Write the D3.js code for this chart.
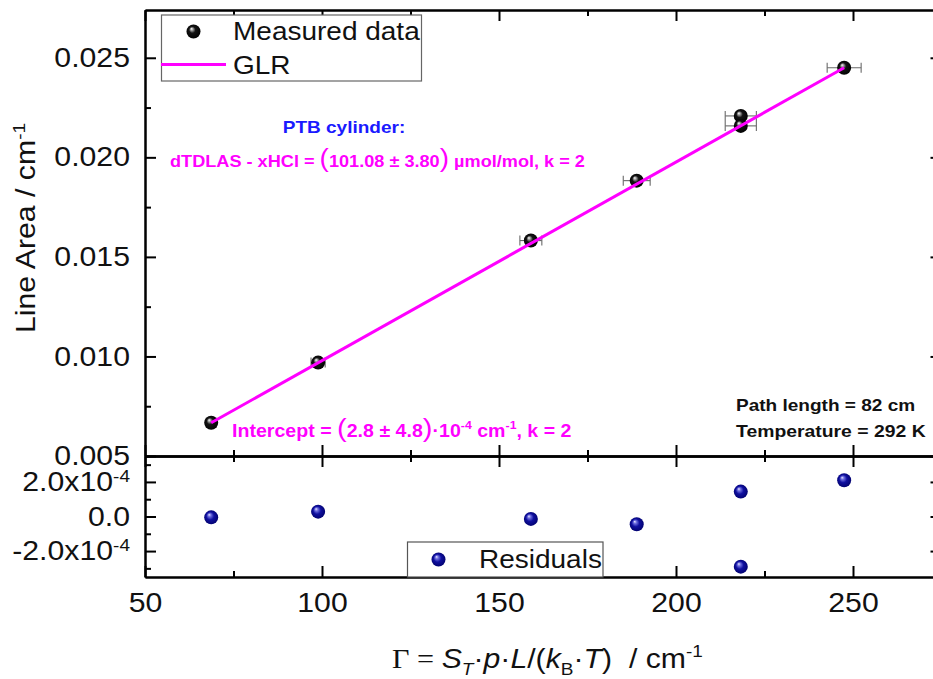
<!DOCTYPE html>
<html>
<head>
<meta charset="utf-8">
<script src="https://cdn.jsdelivr.net/npm/d3@7"></script>
<style>
  body { margin: 0; background: #fff; }
  svg { display: block; }
  text { font-family: "Liberation Sans", Arial, sans-serif; white-space: pre; }
</style>
</head>
<body>
<svg id="chart" width="933" height="679"></svg>
<script>
// ---- data ----
const gamma      = [68.7, 98.9, 159.0, 188.9, 218.3, 218.3, 247.5];       // Γ / cm^-1
const lineArea   = [0.00667, 0.00969, 0.01582, 0.01883, 0.02208, 0.02158, 0.02450]; // cm^-1
const gammaErr   = [1.4, 2.0, 3.1, 3.8, 4.4, 4.4, 4.8];                     // ± Γ
const residuals  = [-0.5e-5, 2.8e-5, -1.4e-5, -4.5e-5, 1.44e-4, -2.9e-4, 2.1e-4];

// GLR fit line end points
const glrGamma = [68.7, 247.5];
const glrArea  = [0.00667, 0.02450];

// fit results shown in the annotations
const xHCl = "101.08", xHClU = "3.80";
const intercept = "2.8", interceptU = "4.8";
const pathLength = 82, temperature = 292;

// axis limits and ticks
const gammaDomain = [50, 275];
const areaDomain  = [0.005, 0.0274];
const resDomain   = [-3.5e-4, 3.5e-4];
const xMajor = [50, 100, 150, 200, 250];
const xMinor = [75, 125, 175, 225];
const areaMajor = [0.005, 0.010, 0.015, 0.020, 0.025];
const areaMinor = [0.0075, 0.0125, 0.0175, 0.0225];
const resMajor = [-2e-4, 0, 2e-4];
const resMinor = [-3e-4, -1e-4, 1e-4, 3e-4];
const resLabelBase = ["-2.0x10", "0.0", "2.0x10"];
const resLabelExp  = ["-4", "", "-4"];

// ---- layout ----
const L = 145, R = 941.5, T = 10, MID = 456, B = 577;
const SX = 1.12;            // horizontal glyph stretch
const FS = 27;              // axis text size
const MAG = "#ff00ff";

const svg = d3.select("#chart");
const x    = d3.scaleLinear().domain(gammaDomain).range([L, R]);
const yMain = d3.scaleLinear().domain(areaDomain).range([MID, T]);
const yRes  = d3.scaleLinear().domain(resDomain).range([B, MID]);

// gradients for shaded spheres
const defs = svg.append("defs");
function sphere(id, stops) {
  const g = defs.append("radialGradient").attr("id", id)
    .attr("cx", 0.5).attr("cy", 0.5).attr("r", 0.55).attr("fx", 0.35).attr("fy", 0.3);
  stops.forEach(s => g.append("stop").attr("offset", s[0]).attr("stop-color", s[1]));
}
sphere("ballBlack", [[0, "#ffffff"], [0.18, "#9a9a9a"], [0.42, "#141414"], [1, "#000000"]]);
sphere("ballBlue",  [[0, "#e8e8ff"], [0.2, "#7070e0"], [0.5, "#1010a0"], [1, "#00006a"]]);

// ---- axes ----
function axis(gen, tx, ty, vals, size, pad, fmt) {
  const g = svg.append("g").attr("transform", `translate(${tx},${ty})`)
    .call(gen.tickValues(vals).tickSizeInner(size).tickSizeOuter(0)
      .tickPadding(pad || 3).tickFormat(fmt || (() => "")));
  g.select(".domain").attr("stroke", "#000").attr("stroke-width", 2);
  g.selectAll(".tick line").attr("stroke", "#000").attr("stroke-width", 2);
  g.selectAll(".tick text").attr("font-size", FS).attr("fill", "#111")
    .attr("font-family", "Liberation Sans, Arial, sans-serif");
  return g;
}

// main panel frame
axis(d3.axisTop(x), 0, T, xMajor, -11);
axis(d3.axisTop(x), 0, T, xMinor, -6);
axis(d3.axisBottom(x), 0, MID, xMajor, -11);
axis(d3.axisBottom(x), 0, MID, xMinor, -6);
const yLeft = axis(d3.axisLeft(yMain), L, 0, areaMajor, -11, 15, d3.format(".3f"));
yLeft.selectAll(".tick text").attr("x", -15 / SX).attr("transform", `scale(${SX},1)`);
axis(d3.axisLeft(yMain), L, 0, areaMinor, -6);
axis(d3.axisRight(yMain), R, 0, areaMajor, -11);
axis(d3.axisRight(yMain), R, 0, areaMinor, -6);

// residual panel frame
axis(d3.axisTop(x), 0, MID, xMajor, -11);
axis(d3.axisTop(x), 0, MID, xMinor, -6);
const xBottom = axis(d3.axisBottom(x), 0, B, xMajor, -11, 16, d3.format("d"));
xBottom.selectAll(".tick text").attr("transform", `scale(${SX},1)`);
axis(d3.axisBottom(x), 0, B, xMinor, -6);
const rLeft = axis(d3.axisLeft(yRes), L, 0, resMajor, -11, 15);
rLeft.selectAll(".tick text").each(function (d, i) {
  const t = d3.select(this).text(null).attr("x", -15 / SX)
    .attr("transform", `scale(${SX},1)`);
  t.append("tspan").text(resLabelBase[i]);
  if (resLabelExp[i]) t.append("tspan").attr("font-size", 17).attr("dy", -9).text(resLabelExp[i]);
});
axis(d3.axisLeft(yRes), L, 0, resMinor, -6);
axis(d3.axisRight(yRes), R, 0, resMajor, -11);
axis(d3.axisRight(yRes), R, 0, resMinor, -6);

// ---- text helpers ----
function label(x0, y0, anchor, extra) {
  return svg.append("text")
    .attr("transform", `translate(${x0},${y0})${extra || ""} scale(${SX},1)`)
    .attr("text-anchor", anchor || "start");
}
function rich(t, segs) {
  segs.forEach(s => {
    const ts = t.append("tspan").text(s.t);
    if (s.size) ts.attr("font-size", s.size);
    if (s.dy) ts.attr("dy", s.dy);
    if (s.style) ts.attr("font-style", s.style);
    if (s.weight) ts.attr("font-weight", s.weight);
    if (s.family) ts.attr("font-family", s.family);
  });
  return t;
}

// ---- main panel marks ----
const pts = gamma.map((g, i) => ({ g, a: lineArea[i], e: gammaErr[i], r: residuals[i] }));

const eb = svg.append("g").attr("stroke", "#6a6a6a").attr("stroke-width", 1.1);
pts.forEach(p => {
  const yy = yMain(p.a);
  eb.append("line").attr("x1", x(p.g - p.e)).attr("x2", x(p.g + p.e)).attr("y1", yy).attr("y2", yy);
  eb.append("line").attr("x1", x(p.g - p.e)).attr("x2", x(p.g - p.e)).attr("y1", yy - 5).attr("y2", yy + 5);
  eb.append("line").attr("x1", x(p.g + p.e)).attr("x2", x(p.g + p.e)).attr("y1", yy - 5).attr("y2", yy + 5);
});

svg.append("g").selectAll("circle").data(pts).join("circle")
  .attr("cx", d => x(d.g)).attr("cy", d => yMain(d.a)).attr("r", 7)
  .attr("fill", "url(#ballBlack)");

svg.append("path")
  .datum(glrGamma.map((g, i) => [g, glrArea[i]]))
  .attr("d", d3.line().x(d => x(d[0])).y(d => yMain(d[1])))
  .attr("stroke", MAG).attr("stroke-width", 3).attr("fill", "none");

// ---- residual marks ----
svg.append("g").selectAll("circle").data(pts).join("circle")
  .attr("cx", d => x(d.g)).attr("cy", d => yRes(d.r)).attr("r", 7)
  .attr("fill", "url(#ballBlue)");

// ---- legends ----
svg.append("rect").attr("x", 161.5).attr("y", 15).attr("width", 260).attr("height", 66)
  .attr("fill", "#fff").attr("stroke", "#666").attr("stroke-width", 1.2);
svg.append("circle").attr("cx", 193.5).attr("cy", 31.5).attr("r", 7).attr("fill", "url(#ballBlack)");
label(233, 40).attr("font-size", 25).attr("fill", "#111").text("Measured data");
svg.append("line").attr("x1", 161).attr("x2", 226).attr("y1", 64.5).attr("y2", 64.5)
  .attr("stroke", MAG).attr("stroke-width", 3);
label(233, 74).attr("font-size", 25).attr("fill", "#111").text("GLR");

svg.append("rect").attr("x", 407.5).attr("y", 542).attr("width", 195.5).attr("height", 35)
  .attr("fill", "#fff").attr("stroke", "#555").attr("stroke-width", 1.2);
svg.append("circle").attr("cx", 438.5).attr("cy", 559.5).attr("r", 7).attr("fill", "url(#ballBlue)");
label(479, 568).attr("font-size", 25).attr("fill", "#111").text("Residuals");

// ---- annotations ----
label(344, 133, "middle").attr("font-size", 17).attr("font-weight", "bold").attr("fill", "#1a1aff")
  .text("PTB cylinder:");

rich(label(170, 167).attr("font-size", 16.2).attr("font-weight", "bold").attr("fill", MAG), [
  { t: "dTDLAS - xHCl = " },
  { t: "(", size: 25, weight: "normal" },
  { t: `${xHCl} \u00b1 ${xHClU}` },
  { t: ")", size: 25, weight: "normal" },
  { t: " \u00b5mol/mol, k = 2" }
]);

rich(label(232, 437).attr("font-size", 17.5).attr("font-weight", "bold").attr("fill", MAG), [
  { t: "Intercept = " },
  { t: "(", size: 26, weight: "normal" },
  { t: `${intercept} \u00b1 ${interceptU}` },
  { t: ")", size: 26, weight: "normal" },
  { t: "\u00b710" },
  { t: "-4", size: 11, dy: -8 },
  { t: " cm", dy: 8 },
  { t: "-1", size: 11, dy: -8 },
  { t: ", k = 2", dy: 8 }
]);

label(736, 411).attr("font-size", 17).attr("font-weight", "bold").attr("fill", "#111")
  .text(`Path length = ${pathLength} cm`);
label(736, 437).attr("font-size", 17.3).attr("font-weight", "bold").attr("fill", "#111")
  .text(`Temperature = ${temperature} K`);

// ---- axis titles ----
rich(label(35, 228, "middle", " rotate(-90)").attr("font-size", FS).attr("fill", "#111"), [
  { t: "Line Area / cm" },
  { t: "-1", size: 17, dy: -10 }
]);

rich(label(392, 668).attr("font-size", FS).attr("fill", "#111"), [
  { t: "\u0393 = ", family: "Liberation Serif, Times New Roman, serif" },
  { t: "S", style: "italic" },
  { t: "T", style: "italic", size: 17, dy: 7 },
  { t: "\u00b7", dy: -7 },
  { t: "p", style: "italic" },
  { t: "\u00b7" },
  { t: "L", style: "italic" },
  { t: "/(" },
  { t: "k", style: "italic" },
  { t: "B", size: 17, dy: 7 },
  { t: "\u00b7", dy: -7 },
  { t: "T", style: "italic" },
  { t: ")  / cm" },
  { t: "-1", size: 17, dy: -11 }
]);
</script>
</body>
</html>
